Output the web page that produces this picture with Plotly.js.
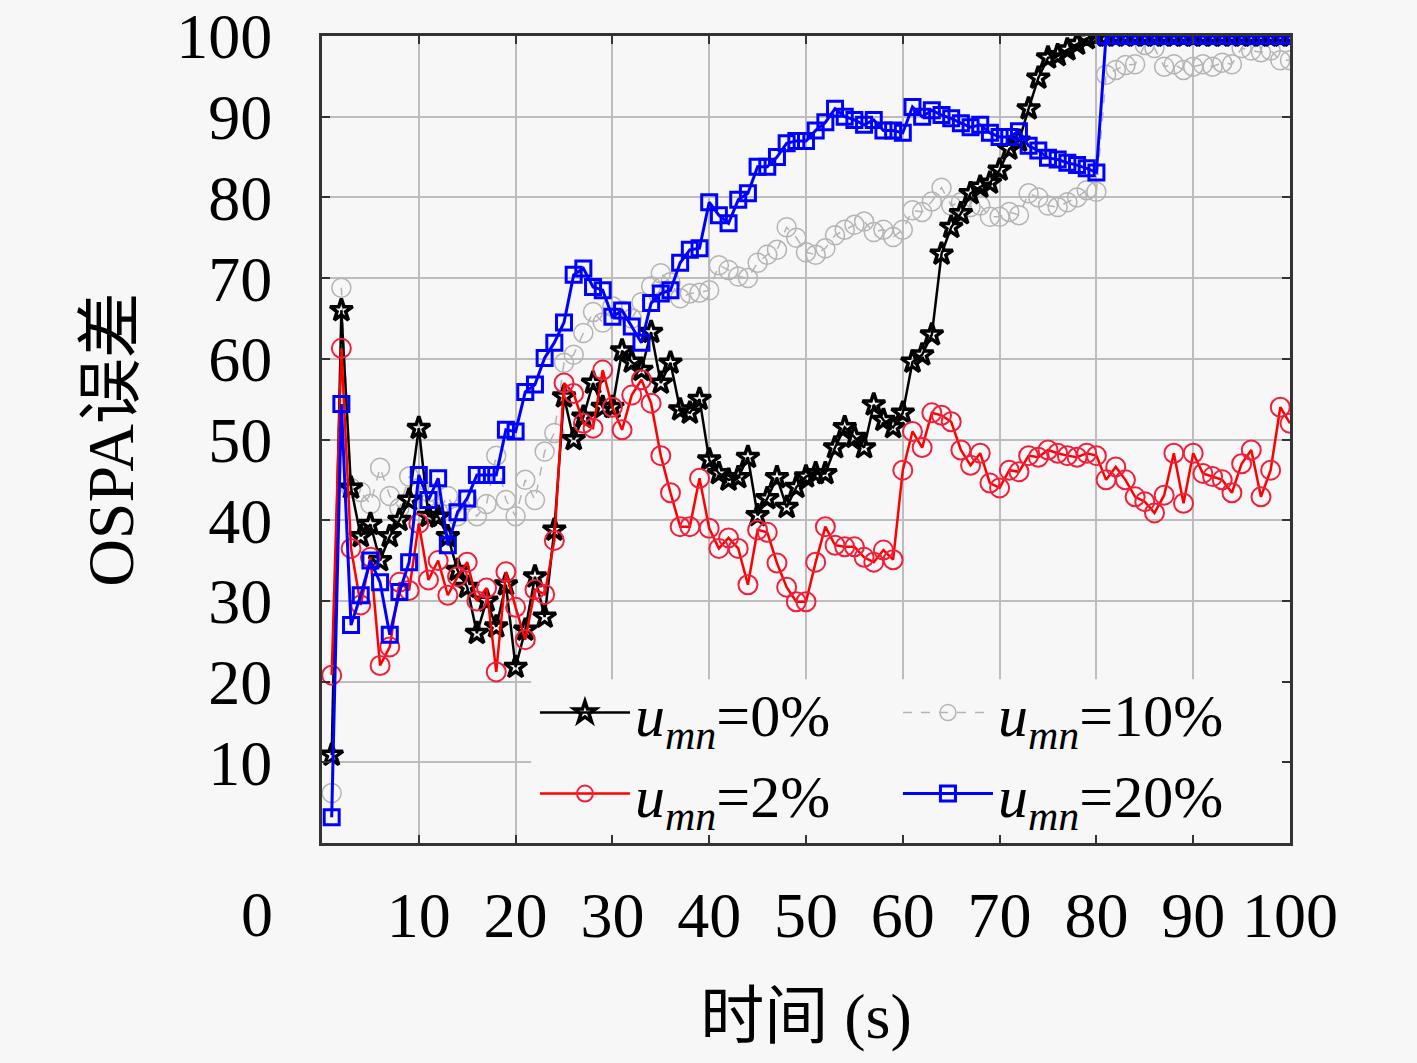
<!DOCTYPE html>
<html>
<head>
<meta charset="utf-8">
<script src="https://cdn.plot.ly/plotly-3.0.1.min.js"></script>
<style>
  html, body { margin: 0; padding: 0; background: #f7f7f7; }
  #chart { width: 1417px; height: 1063px; }
</style>
</head>
<body>
<div id="chart"></div>
<script>
// time axis, 1..100 s
var timeSec = [];
for (var i = 1; i <= 100; i++) timeSec.push(i);

var xTickVals = [10, 20, 30, 40, 50, 60, 70, 80, 90, 100];
var yTickVals = [10, 20, 30, 40, 50, 60, 70, 80, 90, 100];

// OSPA error, u_mn = 0%
var ospa0 = [
  10.9, 66, 44, 38, 39.5, 35, 38, 40, 42.5, 51.4,
  40.5, 40.4, 38, 33.8, 31.7, 26, 30, 26.8, 32, 21.8,
  26.4, 33, 28, 38.8, 55.3, 50, 52.8, 57, 54, 54,
  61, 59.6, 58.6, 63.3, 57, 59.5, 53.7, 53.3, 55, 47.5,
  45.8, 45, 45.3, 47.8, 40.6, 42.7, 45.3, 41.6, 44.1, 45.4,
  45.8, 45.8, 49, 51.5, 50.3, 49, 54.3, 52.4, 51.5, 53.3,
  59.6, 60.5, 63, 73, 76.3, 78, 80.5, 81.3, 81.8, 83.4,
  86, 87, 91, 94.8, 97.3, 97.6, 98.3, 99, 99.7, 100,
  100, 100, 100, 100, 100, 100, 100, 100, 100, 100,
  100, 100, 100, 100, 100, 100, 100, 100, 100, 100
];

// OSPA error, u_mn = 2%
var ospa2 = [
  20.8, 61.3, 36.5, 29.5, 35.4, 22, 24.3, 32.3, 31.3, 39.6,
  32.6, 35, 30.7, 33, 34.8, 30, 31.6, 21.2, 33.6, 29.2,
  25.2, 31.4, 30.8, 37.5, 57, 55.7, 52, 51.4, 58.6, 54,
  51.2, 55.5, 57.4, 54.5, 48, 43.4, 39.2, 39.2, 45.2, 39,
  36.5, 37.8, 36.5, 32, 38.8, 38.5, 34.7, 31.7, 29.9, 29.9,
  34.8, 39.2, 36.9, 36.7, 36.7, 35.4, 34.8, 36.3, 35.1, 46.2,
  51, 49, 53.3, 53, 52.2, 48.7, 46.8, 48.3, 44.6, 44,
  46.2, 46, 48, 47.8, 48.7, 48.3, 48, 47.8, 48.3, 48,
  45, 46.6, 45, 42.9, 42.3, 40.9, 43.1, 48.3, 42.1, 48.3,
  45.8, 45.4, 45, 43.4, 47, 48.7, 42.9, 46.2, 54, 52
];

// OSPA error, u_mn = 10%
var ospa10 = [
  6.2, 68.8, 44, 43.5, 42, 46.5, 43, 41.5, 45.4, 44,
  43.5, 41, 43, 40.5, 42.5, 40.5, 42, 48, 42.5, 40.5,
  45, 42.5, 48.5, 50.8, 59.5, 60.5, 63.2, 65.8, 64.5, 66.5,
  66, 65, 67, 69, 70.6, 69.5, 67.5, 68.1, 68.2, 68.5,
  71.6, 71, 70.2, 70, 71.9, 72.9, 73.5, 76.3, 75, 73.2,
  72.9, 73.7, 75.3, 76, 76.6, 77, 75.7, 76, 75.1, 76,
  78.4, 78.2, 79.5, 81.2, 79, 79.4, 78.8, 79, 77.6, 77.6,
  78.2, 77.8, 80.5, 80, 79, 78.8, 79.4, 80, 80.9, 80.7,
  95.2, 95.8, 96.4, 96.5, 98.9, 98.5, 96.2, 96.5, 95.8, 96.2,
  96.5, 96.2, 96.7, 96.5, 98.5, 98.2, 98, 98.2, 97, 97
];

// OSPA error, u_mn = 20%
var ospa20 = [
  3.2, 54.4, 27, 30.7, 35, 32.3, 25.8, 31.1, 34.8, 45.6,
  42.5, 45.2, 36.9, 41, 42.7, 45.6, 45.6, 45.6, 51.2, 51,
  55.9, 56.8, 60.1, 62, 64.5, 70.4, 71.2, 68.9, 68.5, 65.2,
  66, 64, 62, 66.9, 68.1, 68.5, 71.9, 73.5, 73.7, 79.4,
  77.8, 76.8, 79.7, 80.5, 83.8, 83.8, 85, 86.7, 87, 87,
  88.3, 89.3, 91, 90, 89.6, 89, 89.6, 88.3, 88.3, 88,
  91.2, 90, 90.8, 90.2, 89.8, 89.2, 88.7, 89, 88, 87.5,
  87.5, 88.2, 86.4, 85.8, 84.9, 84.7, 84.3, 84, 83.6, 83.1,
  100, 100, 100, 100, 100, 100, 100, 100, 100, 100,
  100, 100, 100, 100, 100, 100, 100, 100, 100, 100
];

var seriesNames = [
  '<i>u</i><sub><i>mn</i></sub>=0%',
  '<i>u</i><sub><i>mn</i></sub>=2%',
  '<i>u</i><sub><i>mn</i></sub>=10%',
  '<i>u</i><sub><i>mn</i></sub>=20%'
];

var serif = '"Liberation Serif", "DejaVu Serif", "Noto Sans CJK SC", serif';
var bg = '#f7f7f7';

var trace10 = {
  x: timeSec, y: ospa10, name: seriesNames[2], legendrank: 2,
  mode: 'lines+markers',
  line: {color: '#b4b4b4', width: 1.5, dash: 'dash'},
  marker: {symbol: 'circle-open', size: 19, color: '#b4b4b4', line: {width: 1.5, color: '#b4b4b4'}}
};

var trace0 = {
  x: timeSec, y: ospa0, name: seriesNames[0], legendrank: 1,
  mode: 'lines+markers',
  line: {color: 'black', width: 2.5},
  marker: {symbol: 'star-open', size: 17, color: 'black', line: {width: 3.5, color: 'black'}}
};

var trace2 = {
  x: timeSec, y: ospa2, name: seriesNames[1], legendrank: 3,
  mode: 'lines+markers',
  line: {color: 'red', width: 2.5},
  marker: {symbol: 'circle-open', size: 19, color: '#f0203c', line: {width: 2, color: '#f0203c'}}
};

var trace20 = {
  x: timeSec, y: ospa20, name: seriesNames[3], legendrank: 4,
  mode: 'lines+markers',
  line: {color: 'blue', width: 3},
  marker: {symbol: 'square-open', size: 15, color: 'blue', line: {width: 3, color: 'blue'}}
};

var plotlyData = [trace10, trace0, trace2, trace20];

var layout = {
  width: 1417,
  height: 1063,
  margin: {l: 322, r: 127, t: 36, b: 220},
  paper_bgcolor: bg,
  plot_bgcolor: bg,
  font: {family: serif, size: 64, color: 'black'},
  showlegend: true,
  legend: {
    orientation: 'h',
    x: 0.22, xanchor: 'left',
    y: 0.218, yanchor: 'top',
    entrywidth: 258,
    itemwidth: 90,
    bgcolor: 'rgba(0,0,0,0)',
    borderwidth: 0,
    font: {family: serif, size: 60},
    tracegroupgap: 0
  },
  // patch behind the legend that hides the grid, like the original
  shapes: [{
    type: 'rect', layer: 'between',
    xref: 'x', yref: 'y',
    x0: 21.6, x1: 99.6, y0: 0.3, y1: 20.3,
    fillcolor: bg, line: {width: 0}
  }],
  xaxis: {
    range: [0, 100],
    tickvals: xTickVals,
    ticktext: xTickVals.map(String),
    ticks: 'inside', ticklen: 8, tickwidth: 2, tickcolor: '#333',
    ticklabelstandoff: 14,
    showline: true, linecolor: '#333', linewidth: 3, mirror: 'ticks',
    showgrid: true, gridcolor: '#bdbdbd', gridwidth: 2,
    zeroline: false,
    tickfont: {family: serif, size: 64},
    title: {text: '时间 (s)', font: {family: serif, size: 64}, standoff: 44}
  },
  yaxis: {
    range: [0, 100],
    tickvals: yTickVals,
    ticktext: yTickVals.map(String),
    ticks: 'inside', ticklen: 8, tickwidth: 2, tickcolor: '#333',
    ticklabelstandoff: 34,
    showline: true, linecolor: '#333', linewidth: 3, mirror: 'ticks',
    showgrid: true, gridcolor: '#bdbdbd', gridwidth: 2,
    zeroline: false,
    tickfont: {family: serif, size: 64},
    title: {text: 'OSPA误差', font: {family: serif, size: 66}, standoff: 22}
  },
  annotations: [{
    text: '0', xref: 'paper', yref: 'paper',
    x: -0.067, y: -0.088, xanchor: 'center', yanchor: 'middle',
    showarrow: false, font: {family: serif, size: 64}
  }]
};

Plotly.newPlot('chart', plotlyData, layout, {displayModeBar: false, staticPlot: true});
</script>
</body>
</html>
